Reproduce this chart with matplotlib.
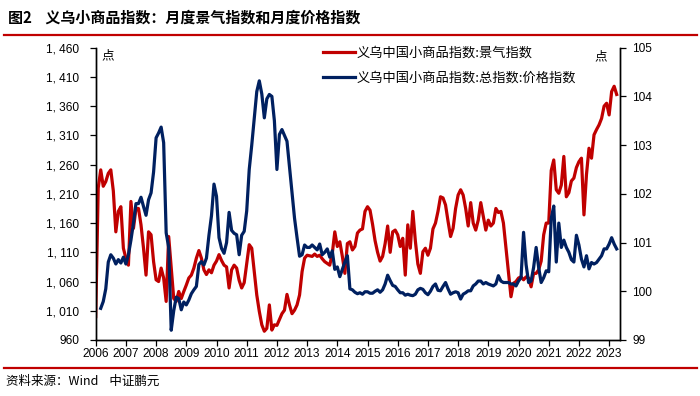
import numpy as np
import matplotlib
matplotlib.use("Agg")
import matplotlib.pyplot as plt
from matplotlib import font_manager
from matplotlib.lines import Line2D

# 义乌中国小商品指数 景气指数 (left axis), monthly from 2006-01
jingqi = [
    1000, 1220, 1251, 1223, 1231, 1245, 1251, 1215, 1145, 1180, 1188, 1117,  # 2006
    1100, 1088, 1197, 1151, 1185, 1185, 1157, 1117, 1071, 1145, 1140, 1094,  # 2007
    1063, 1060, 1083, 1066, 1026, 1137, 1083, 1031, 1026, 1043, 1031, 1043,  # 2008
    1054, 1066, 1071, 1083, 1100, 1113, 1100, 1080, 1072, 1080, 1075, 1088,  # 2009
    1095, 1106, 1096, 1088, 1085, 1049, 1080, 1088, 1083, 1062, 1049, 1058,  # 2010
    1090, 1123, 1117, 1077, 1037, 1009, 986, 975, 980, 1020, 977, 986,       # 2011
    985, 995, 1005, 1011, 1038, 1020, 1005, 1011, 1020, 1037, 1077, 1100,    # 2012
    1105, 1104, 1103, 1107, 1103, 1105, 1099, 1094, 1091, 1088, 1108, 1145,  # 2013
    1120, 1128, 1103, 1074, 1125, 1128, 1114, 1120, 1143, 1148, 1150, 1180,  # 2014
    1188, 1182, 1158, 1130, 1110, 1095, 1103, 1125, 1155, 1110, 1145, 1148,  # 2015
    1140, 1120, 1134, 1071, 1157, 1117, 1180, 1130, 1090, 1074, 1111, 1117,  # 2016
    1105, 1117, 1150, 1160, 1180, 1205, 1203, 1191, 1163, 1137, 1151, 1185,  # 2017
    1208, 1217, 1208, 1185, 1155, 1195, 1160, 1148, 1165, 1195, 1172, 1148,  # 2018
    1165, 1155, 1160, 1185, 1178, 1180, 1160, 1118, 1075, 1034, 1057, 1060,  # 2019
    1066, 1068, 1063, 1068, 1066, 1051, 1074, 1074, 1080, 1095, 1140, 1160,  # 2020
    1160, 1250, 1268, 1217, 1211, 1225, 1274, 1205, 1212, 1232, 1237, 1255,  # 2021
    1265, 1271, 1174, 1243, 1288, 1271, 1311, 1320, 1328, 1339, 1360, 1365,  # 2022
    1345, 1385, 1394, 1380,                                                  # 2023
]

# 总指数:价格指数 (right axis), monthly from 2006-03
jiage = [
    99.65, 99.79, 100.05, 100.6, 100.75, 100.68, 100.56, 100.65, 100.58, 100.7,          # 2006
    100.56, 100.75, 101.05, 101.4, 101.8, 101.8, 101.93, 101.74, 101.56, 101.88, 102.02, 102.45,  # 2007
    103.15, 103.25, 103.37, 103.05, 101.2, 100.9, 99.2, 99.6, 99.88, 99.85, 99.62, 99.78,   # 2008
    99.72, 99.82, 99.95, 100.03, 100.1, 100.55, 100.61, 100.54, 100.68, 101.15, 101.55, 102.2,  # 2009
    101.95, 101.1, 100.88, 100.78, 101.0, 101.62, 101.25, 101.19, 101.16, 100.75, 101.15, 101.23,  # 2010
    101.65, 102.5, 103.0, 103.55, 104.1, 104.32, 104.05, 103.56, 103.95, 104.04, 104.0, 103.5,  # 2011
    102.5, 103.22, 103.32, 103.2, 103.08, 102.55, 102.0, 101.5, 101.1, 100.72, 100.75, 100.95,  # 2012
    100.9, 100.9, 100.95, 100.9, 100.85, 100.97, 100.75, 100.8, 100.87, 100.7, 100.83, 100.45,  # 2013
    100.5, 100.3, 100.45, 100.6, 100.73, 100.05, 100.03, 99.98, 99.95, 99.97, 99.94, 99.99,  # 2014
    99.99, 99.96, 99.96, 100.0, 100.03, 99.98, 100.03, 100.15, 100.33, 100.22, 100.12, 100.1,  # 2015
    100.03, 99.97, 99.97, 99.92, 99.94, 99.92, 99.91, 99.94, 100.03, 100.06, 100.04, 99.97,  # 2016
    99.93, 100.0, 100.1, 100.15, 100.02, 100.01, 100.1, 100.18, 100.05, 99.94, 99.97, 99.99,  # 2017
    99.97, 99.84, 99.94, 99.97, 100.01, 100.01, 100.11, 100.15, 100.21, 100.21, 100.15, 100.18,  # 2018
    100.15, 100.13, 100.11, 100.15, 100.32, 100.21, 100.18, 100.18, 100.18, 100.15, 100.15, 100.11,  # 2019
    100.21, 100.28, 101.21, 100.55, 100.18, 100.21, 100.49, 100.9, 100.49, 100.18, 100.28, 100.42,  # 2020
    100.4, 101.5, 101.75, 100.6, 101.4, 100.9, 101.05, 100.9, 100.8, 100.65, 100.6, 101.15,  # 2021
    100.95, 100.66, 100.5, 100.73, 100.46, 100.59, 100.56, 100.59, 100.66, 100.73, 100.87, 100.87,  # 2022
    100.97, 101.1, 100.97, 100.87,                                                       # 2023
]

years = list(range(2006, 2024))
left_ticks = list(range(960, 1461, 50))
left_labels = ["960", "1, 010", "1, 060", "1, 110", "1, 160", "1, 210", "1, 260",
               "1, 310", "1, 360", "1, 410", "1, 460"]
right_ticks = [99, 100, 101, 102, 103, 104, 105]

red = "#C00000"
navy = "#002060"
cjk = ["Noto Sans CJK SC", "DejaVu Sans"]

names = {f.name for f in font_manager.fontManager.ttflist}
num_font = "Liberation Sans Narrow" if "Liberation Sans Narrow" in names else "Liberation Sans"
num_size = 9.5 if num_font == "Liberation Sans Narrow" else 8.6

x_red = 2006 + np.arange(len(jingqi)) / 12
x_blue = 2006 + (np.arange(len(jiage)) + 2) / 12

fig = plt.figure(figsize=(7, 3.96), dpi=100)
ax = fig.add_axes([95.7 / 700, 1 - 340 / 396, (620 - 95.7) / 700, (340 - 47.7) / 396])
ax2 = ax.twinx()

l1, = ax.plot(x_red, jingqi, color=red, lw=2.3, solid_joinstyle="round")
l2, = ax2.plot(x_blue, jiage, color=navy, lw=2.3, solid_joinstyle="round")

ax.set_xlim(2006, 2023.36)
ax.set_ylim(960, 1460)
ax2.set_ylim(99, 105)

ax.set_xticks(years)
ax.set_xticklabels([str(y) for y in years], fontfamily=num_font, fontsize=num_size)
ax.set_yticks(left_ticks)
ax.set_yticklabels(left_labels, fontfamily=num_font, fontsize=num_size)
ax2.set_yticks(right_ticks)
ax2.set_yticklabels([str(v) for v in right_ticks], fontfamily=num_font, fontsize=num_size)

for a in (ax, ax2):
    a.spines["top"].set_visible(False)
    for s in ("left", "right", "bottom"):
        a.spines[s].set_linewidth(1.0)
        a.spines[s].set_color("black")
    a.tick_params(direction="out", length=4, width=0.9, colors="black", pad=2)
ax.tick_params(axis="y", pad=8)
ax2.tick_params(axis="y", pad=5)

ax.text(0.01, 0.995, "点", transform=ax.transAxes, family=cjk, fontsize=9, va="top", ha="left")
ax.text(0.975, 0.99, "点", transform=ax.transAxes, family=cjk, fontsize=9, va="top", ha="right")

ax2.legend([l1, l2], ["义乌中国小商品指数:景气指数", "义乌中国小商品指数:总指数:价格指数"],
           loc="upper left", bbox_to_anchor=(318 / 700, 1 - 41 / 396), bbox_transform=fig.transFigure,
           frameon=False, prop={"family": cjk, "size": 9.5}, handlelength=2.4,
           handletextpad=0.15, labelspacing=0.9, borderaxespad=0)

fig.text(8 / 700, 1 - 18 / 396, "图2    义乌小商品指数：月度景气指数和月度价格指数",
         family=cjk, fontsize=10.8, fontweight="bold", va="center", ha="left")
fig.add_artist(Line2D([4 / 700, 697 / 700], [1 - 35 / 396] * 2, color=red, lw=1.6))
fig.add_artist(Line2D([4 / 700, 697 / 700], [1 - 368 / 396] * 2, color=red, lw=1.6))
fig.text(6 / 700, 1 - 381 / 396, "资料来源：Wind    中证鹏元", family=cjk, fontsize=9,
         va="center", ha="left")

fig.savefig("out.png", dpi=100)
